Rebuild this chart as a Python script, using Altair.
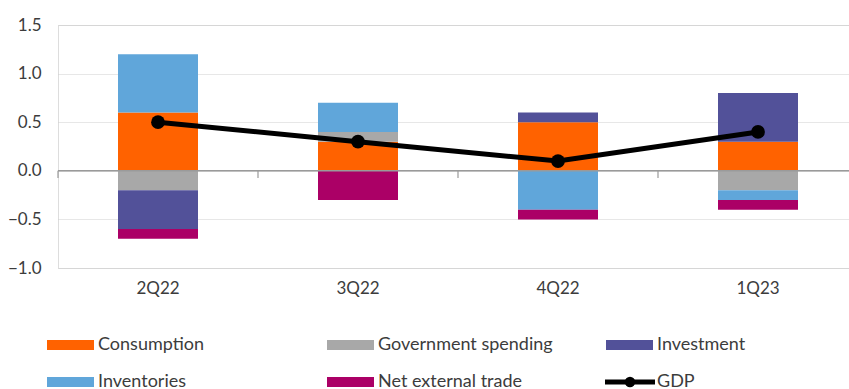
import altair as alt
import pandas as pd

quarters = ["2Q22", "3Q22", "4Q22", "1Q23"]
consumption = [0.6, 0.3, 0.5, 0.3]
government = [-0.2, 0.1, 0.0, -0.2]
investment = [-0.4, 0.0, 0.1, 0.5]
inventories = [0.6, 0.3, -0.4, -0.1]
net_trade = [-0.1, -0.3, -0.1, -0.1]
gdp = [0.5, 0.3, 0.1, 0.4]

components = ["Consumption", "Government spending", "Investment", "Inventories", "Net external trade"]
colors = ["#FF6200", "#A8A8A8", "#525199", "#60A6DA", "#AB0066"]
series = [consumption, government, investment, inventories, net_trade]
y_ticks = [-1.0, -0.5, 0.0, 0.5, 1.0, 1.5]

rows = []
for i, q in enumerate(quarters):
    for k, (name, vals) in enumerate(zip(components, series)):
        rows.append({"quarter": q, "component": name, "value": vals[i], "order": k})
bars_df = pd.DataFrame(rows)
gdp_df = pd.DataFrame({"quarter": quarters, "gdp": gdp})

FONT = "Lato"
TXT = "#3C3C3C"

xscale = alt.Scale(domain=quarters, range=[0, 800], paddingInner=0, paddingOuter=0)
yscale = alt.Scale(domain=[-1.0, 1.5], nice=False, zero=False)

bars = alt.Chart(bars_df).mark_bar(size=80).encode(
    x=alt.X("quarter:N", scale=xscale, sort=quarters,
            axis=alt.Axis(title=None, domain=False, ticks=False, labelAngle=0,
                          labelFontSize=17, labelFont=FONT, labelColor=TXT,
                          labelPadding=12)),
    y=alt.Y("value:Q", scale=yscale, stack="zero",
            axis=alt.Axis(title=None, values=y_ticks, format=".1f", domain=False,
                          ticks=False, labelFontSize=17, labelFont=FONT,
                          labelColor=TXT, labelPadding=17, grid=True,
                          gridColor="#CFCFCF", gridDash=[1, 1], gridWidth=1)),
    color=alt.Color("component:N", scale=alt.Scale(domain=components, range=colors),
                    legend=None),
    order=alt.Order("order:Q"),
)

zero_line = alt.Chart(pd.DataFrame({"z": [0]})).mark_rule(
    color="#9A9A9A", strokeWidth=1.5).encode(y=alt.Y("z:Q", scale=yscale))

ticks = alt.Chart(pd.DataFrame({"quarter": quarters})).mark_rule(
    color="#9A9A9A", strokeWidth=1.2).encode(
    x=alt.X("quarter:N", bandPosition=0, scale=xscale, sort=quarters),
    y=alt.datum(0),
    y2=alt.datum(-0.075),
)

gdp_line = alt.Chart(gdp_df).mark_line(color="black", strokeWidth=5).encode(
    x=alt.X("quarter:N", scale=xscale, sort=quarters),
    y=alt.Y("gdp:Q", scale=yscale),
)
gdp_pts = alt.Chart(gdp_df).mark_point(filled=True, color="black", size=190, opacity=1).encode(
    x=alt.X("quarter:N", scale=xscale, sort=quarters),
    y=alt.Y("gdp:Q", scale=yscale),
)

# Legend (layout positions, in pixels relative to the plot area)
col_x = [-11, 269, 548]
row_y = [320, 357]
legend_layers = []
legend_names = components + ["GDP"]
for idx, name in enumerate(legend_names):
    c, r = idx % 3, idx // 3
    x0, yc = col_x[c], row_y[r]
    one = pd.DataFrame({"name": [name]})
    if name != "GDP":
        sw = alt.Chart(one).mark_rect(color=colors[idx]).encode(
            x=alt.value(x0), x2=alt.value(x0 + 47),
            y=alt.value(yc - 5), y2=alt.value(yc + 5))
        legend_layers.append(sw)
    else:
        ln = alt.Chart(one).mark_rule(color="black", strokeWidth=5).encode(
            x=alt.value(x0 - 1), x2=alt.value(x0 + 49), y=alt.value(yc))
        dot = alt.Chart(one).mark_point(filled=True, color="black", size=110, opacity=1).encode(
            x=alt.value(x0 + 24), y=alt.value(yc))
        legend_layers += [ln, dot]
    tx = alt.Chart(one).mark_text(align="left", baseline="middle", font=FONT,
                                  fontSize=18, color=TXT).encode(
        x=alt.value(x0 + 51), y=alt.value(yc), text="name:N")
    legend_layers.append(tx)

chart = alt.layer(bars, zero_line, ticks, gdp_line, gdp_pts, *legend_layers).properties(
    width=791, height=243,
    autosize=alt.AutoSizeParams(type="none"),
    padding={"left": 58, "top": 25, "right": 0, "bottom": 121},
).configure_view(stroke=None).configure(background="white")

chart.save("out.html", embed_options={"renderer": "svg", "actions": False})
